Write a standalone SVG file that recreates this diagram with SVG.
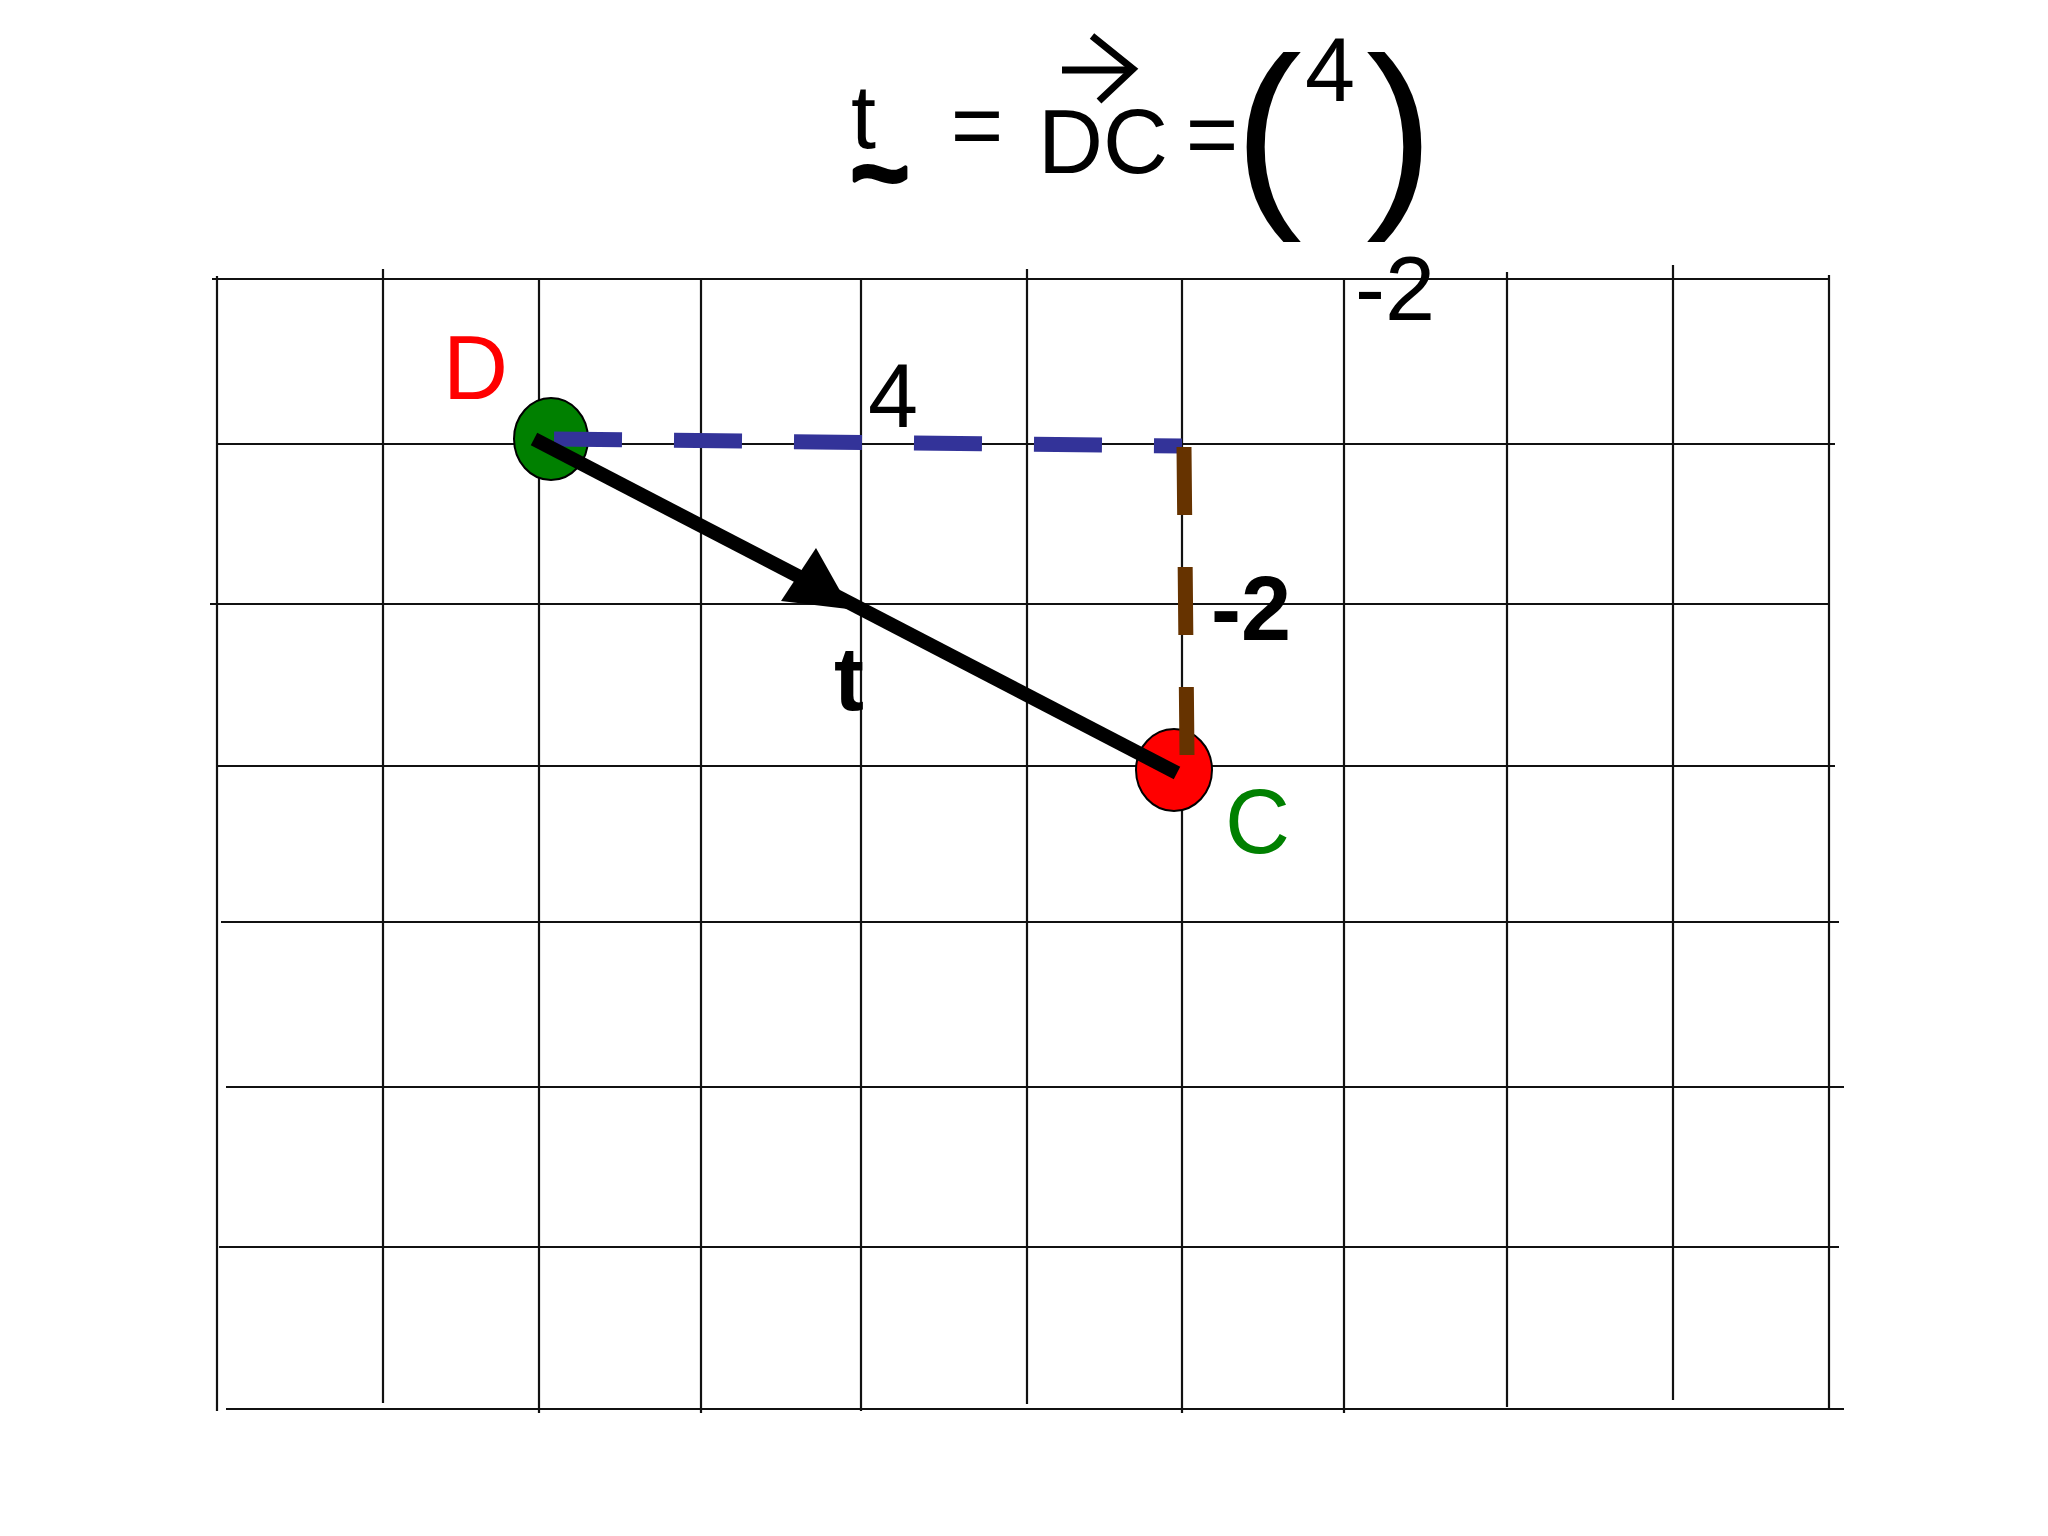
<svg xmlns="http://www.w3.org/2000/svg" width="2048" height="1536" viewBox="0 0 2048 1536">
<style>
.g{stroke:#111;stroke-width:2.2;fill:none}
.t{font-family:"Liberation Sans",Arial,sans-serif;font-size:90px}
.b{font-weight:bold}
</style>
<rect width="2048" height="1536" fill="#fff"/>
<g id="grid">
<line class="g" x1="212" y1="279" x2="1829" y2="279"/>
<line class="g" x1="217" y1="444" x2="1835" y2="444"/>
<line class="g" x1="210" y1="604" x2="1829" y2="604"/>
<line class="g" x1="217" y1="766" x2="1835" y2="766"/>
<line class="g" x1="221" y1="922" x2="1839" y2="922"/>
<line class="g" x1="226" y1="1087" x2="1844" y2="1087"/>
<line class="g" x1="219" y1="1247" x2="1839" y2="1247"/>
<line class="g" x1="226" y1="1409" x2="1844" y2="1409"/>
<line class="g" x1="217" y1="276" x2="217" y2="1411"/>
<line class="g" x1="383" y1="269" x2="383" y2="1403"/>
<line class="g" x1="539" y1="278" x2="539" y2="1413"/>
<line class="g" x1="701" y1="278" x2="701" y2="1413"/>
<line class="g" x1="861" y1="278" x2="861" y2="1411"/>
<line class="g" x1="1027" y1="269" x2="1027" y2="1404"/>
<line class="g" x1="1182" y1="278" x2="1182" y2="1413"/>
<line class="g" x1="1344" y1="278" x2="1344" y2="1413"/>
<line class="g" x1="1507" y1="272" x2="1507" y2="1407"/>
<line class="g" x1="1673" y1="265" x2="1673" y2="1400"/>
<line class="g" x1="1829" y1="275" x2="1829" y2="1409"/>
</g>
<g id="title">
<text class="t" x="851" y="148">t</text>
<text class="t b" x="880" y="207" text-anchor="middle" stroke="#000" stroke-width="4" stroke-linejoin="round" style="font-size:100px">~</text>
<text class="t" x="977" y="156" text-anchor="middle">=</text>
<text class="t" x="1038" y="173">DC</text>
<line x1="1062" y1="70" x2="1130" y2="70" stroke="#000" stroke-width="7"/>
<polyline points="1092,36 1133,69 1099,101" fill="none" stroke="#000" stroke-width="7"/>
<text class="t" x="1212" y="165" text-anchor="middle">=</text>
<text class="t" x="1234" y="200" style="font-size:204px">(</text>
<text class="t" x="1330" y="101" text-anchor="middle">4</text>
<text class="t" x="1366" y="200" style="font-size:204px">)</text>
<text class="t" x="1355" y="320">-2</text>
</g>
<g id="node-D">
<ellipse cx="551" cy="439" rx="37" ry="41" fill="#008000" stroke="#000" stroke-width="2"/>
<text class="t" x="443" y="399" fill="#ff0000">D</text>
</g>
<g id="node-C">
<ellipse cx="1174" cy="770" rx="38" ry="41" fill="#ff0000" stroke="#000" stroke-width="2"/>
<text class="t" x="1225" y="853" fill="#008000">C</text>
</g>
<g id="connectors">
<line x1="554" y1="439" x2="1182" y2="446" stroke="#333399" stroke-width="15" stroke-dasharray="68 52"/>
<line x1="1184" y1="447" x2="1187" y2="755" stroke="#663300" stroke-width="15" stroke-dasharray="68 52"/>
<line x1="534" y1="439" x2="1177" y2="773" stroke="#000" stroke-width="14"/>
<polygon points="816,548 843,596 848,609 781,601" fill="#000"/>
</g>
<g id="labels">
<text class="t" x="893" y="427" text-anchor="middle">4</text>
<text class="t b" x="1211" y="640">-2</text>
<text class="t b" x="834" y="710">t</text>
</g>
</svg>
